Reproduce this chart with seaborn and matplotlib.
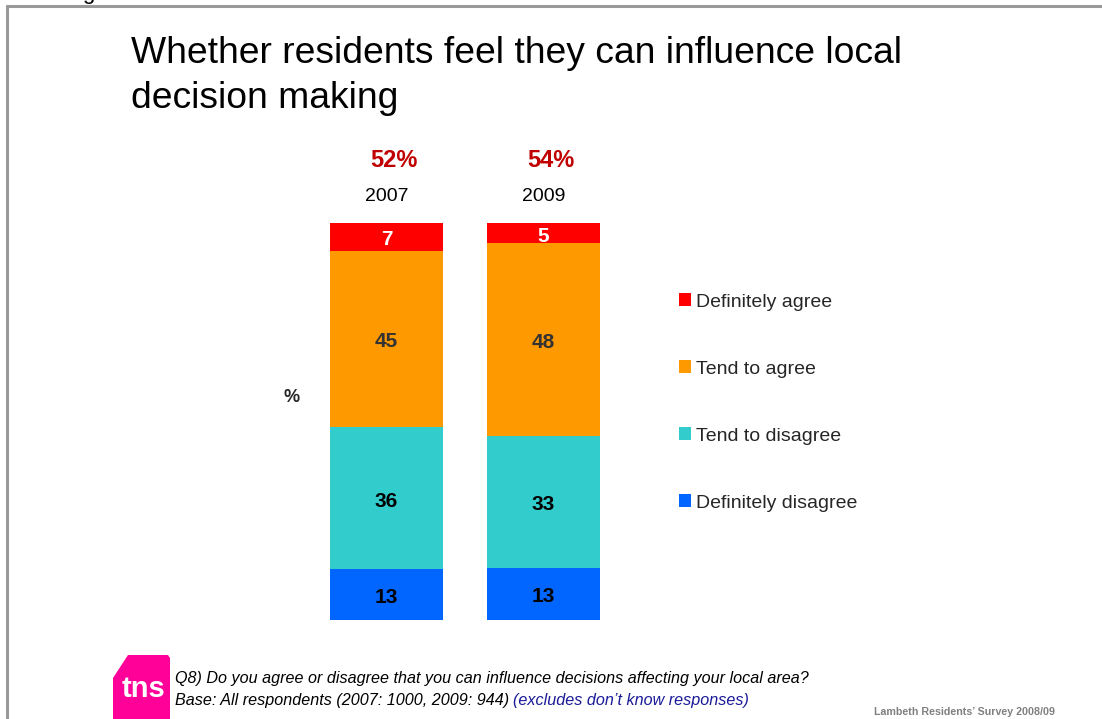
import matplotlib
matplotlib.use("Agg")
import matplotlib.pyplot as plt
import matplotlib.transforms as mtransforms
import seaborn as sns
import pandas as pd
import numpy as np
from matplotlib.patches import Polygon, Patch
from matplotlib.lines import Line2D

# Survey results (% of respondents, excluding "don't know")
years = ["2007", "2009"]
categories = ["Definitely disagree", "Tend to disagree", "Tend to agree", "Definitely agree"]
definitely_disagree = [13, 13]
tend_to_disagree = [36, 33]
tend_to_agree = [45, 48]
definitely_agree = [7, 5]
agree_totals = ["52%", "54%"]

colors = ["#0066FF", "#33CCCC", "#FF9900", "#FF0000"]
label_colors = ["#000000", "#000000", "#333333", "#FFFFFF"]

sns.set_theme(style="white")
plt.rcParams["font.family"] = ["Liberation Sans", "DejaVu Sans"]

W, H = 1102, 719
fig = plt.figure(figsize=(W / 100, H / 100), dpi=100)


def fx(px):
    return px / W


def fy(py):
    return 1 - py / H


ax = fig.add_axes([fx(308), fy(620), fx(622) - fx(308), fy(223) - fy(620)])

values = np.array([definitely_disagree, tend_to_disagree, tend_to_agree, definitely_agree], dtype=float)
shares = values / values.sum(axis=0) * 100   # 100% stacked
tops = shares.cumsum(axis=0)

long = pd.DataFrame({
    "year": np.tile(years, len(categories)),
    "category": np.repeat(categories, len(years)),
    "top": tops.ravel(),
})

# Stack by overdrawing cumulative bars from the top layer downwards
for i in reversed(range(len(categories))):
    sub = long[long["category"] == categories[i]]
    sns.barplot(data=sub, x="year", y="top", color=colors[i], saturation=1,
                width=0.72, ax=ax, errorbar=None, edgecolor="none")

# Segment value labels, nudged slightly below the segment centre
label_trans = mtransforms.offset_copy(ax.transData, fig=fig, y=-3, units="dots")
for i in range(len(categories)):
    for j in range(len(years)):
        ax.text(j, tops[i, j] - shares[i, j] / 2, f"{int(values[i, j])}",
                transform=label_trans, ha="center", va="center", fontsize=15,
                fontweight="bold", color=label_colors[i])

ax.set_xlim(-0.5, 1.5)
ax.set_ylim(0, 100)
ax.axis("off")

# Headline totals and year labels above the bars
trans = ax.get_xaxis_transform()
for j, yr in enumerate(years):
    ax.text(j + 0.05, 1.157, agree_totals[j], transform=trans, ha="center", va="center",
            fontsize=17, fontweight="bold", color="#C00000")
    ax.text(j, 1.068, yr, transform=trans, ha="center", va="center",
            fontsize=14, color="#000000")

fig.text(fx(292), fy(398), "%", ha="center", va="center", fontsize=13, fontweight="bold")

# Legend, top entry first
handles = [Patch(facecolor=colors[i], edgecolor="none", label=categories[i])
           for i in reversed(range(len(categories)))]
fig.legend(handles=handles, loc="center left", bbox_to_anchor=(fx(679), fy(402.5)),
           frameon=False, fontsize=14, labelspacing=2.57, handlelength=0.6,
           handleheight=0.6, handletextpad=0.3, borderpad=0, borderaxespad=0)

# Title
fig.text(fx(131), fy(36), "Whether residents feel they can influence local\ndecision making",
         ha="left", va="top", fontsize=26.8, linespacing=1.37, color="#000000")

# Slide frame
fig.add_artist(Line2D([fx(7), 1], [fy(6), fy(6)], color="#999999", lw=2.2))
fig.add_artist(Line2D([fx(7), fx(7)], [fy(6), 0], color="#999999", lw=2.2))
fig.text(fx(88), 1 + 1 / H, "g", ha="center", va="baseline", fontsize=16, color="#000000")

# Logo
logo = Polygon([(fx(113), fy(678)), (fx(128), fy(655)), (fx(168), fy(655)),
                (fx(170), fy(658)), (fx(170), 0), (fx(113), 0)],
               closed=True, facecolor="#FF0099", edgecolor="none", transform=fig.transFigure)
fig.add_artist(logo)
fig.text(fx(144), fy(689), "tns", ha="center", va="center", fontsize=21,
         fontweight="bold", color="white")

# Footnotes
fig.text(fx(175), fy(678), "Q8) Do you agree or disagree that you can influence decisions affecting your local area?",
         ha="left", va="center", fontsize=11.6, style="italic", color="#000000")
base = fig.text(fx(175), fy(700), "Base: All respondents (2007: 1000, 2009: 944)",
                ha="left", va="center", fontsize=11.6, style="italic", color="#000000")
ax.annotate("(excludes don\u2019t know responses)", xy=(1, 0.5), xycoords=base,
            xytext=(3, 0), textcoords="offset points", ha="left", va="center",
            fontsize=11.6, style="italic", color="#1A1A99", annotation_clip=False)

fig.text(fx(1055), fy(712), "Lambeth Residents\u2019 Survey 2008/09", ha="right", va="center",
         fontsize=7.7, fontweight="bold", color="#808080")

fig.savefig("out.png", dpi=100, facecolor="white")
